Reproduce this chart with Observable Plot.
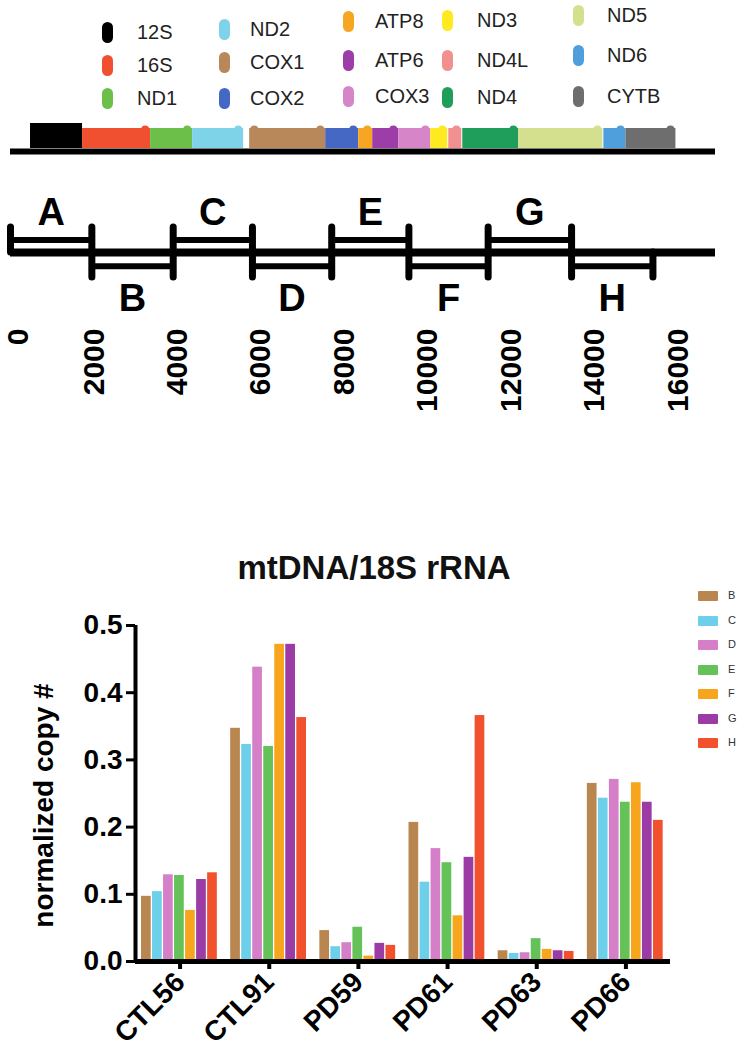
<!DOCTYPE html>
<html>
<head>
<meta charset="utf-8">
<script src="https://cdn.jsdelivr.net/npm/d3@7"></script>
<script src="https://cdn.jsdelivr.net/npm/@observablehq/plot@0.6"></script>
<style>
  body { margin: 0; background: #fff; font-family: "Liberation Sans", Arial, Helvetica, sans-serif; }
  #root { position: relative; width: 740px; height: 1048px; overflow: hidden; background: #fff; }
  .abs { position: absolute; }
  .gsw { position: absolute; width: 11px; height: 21px; border-radius: 5.5px; }
  .gtx { position: absolute; font-size: 20px; line-height: 20px; color: #222; white-space: nowrap; }
  .bsw { position: absolute; width: 20px; height: 10px; border-radius: 1px; }
  .btx { position: absolute; font-size: 11px; line-height: 11px; color: #333; }
  #title { position: absolute; left: 0; width: 748px; top: 550px; text-align: center; font-weight: bold; font-size: 33px; line-height: 36px; color: #111; white-space: nowrap; }
</style>
</head>
<body>
<div id="root"></div>
<script>
// ---------- data ----------
const genes = ["12S","16S","ND1","ND2","COX1","COX2","ATP8","ATP6","COX3","ND3","ND4L","ND4","ND5","ND6","CYTB"];
const geneColors = ["#000000","#f0502f","#6cc04a","#7fd3e8","#b8885a","#4468c4","#f6a623","#9c3da8","#d685c8","#ffe920","#f29090","#1e9e5a","#d5e08e","#4e9fdc","#6e6e6e"];
const geneStart = [480,1727,3358,4366,5733,7556,8347,8683,9307,10074,10506,10842,12185,14224,14752];
const geneEnd   = [1727,3358,4366,5589,7556,8347,8683,9307,10074,10482,10818,12185,14200,14752,15951];
const genomeLength = 16900;

const fragments = ["A","B","C","D","E","F","G","H"];
const fragmentBounds = [0,1950,3900,5800,7700,9550,11450,13450,15400];
const positionTicks = [0,2000,4000,6000,8000,10000,12000,14000,16000];

const samples = ["CTL56","CTL91","PD59","PD61","PD63","PD66"];
const seriesKeys = ["B","C","D","E","F","G","H"];
const seriesColors = ["#b8864e","#6dcfea","#d67fc9","#64c258","#f8a51e","#9b3ba5","#f2512e"];
const valuesB = [0.097,0.347,0.046,0.207,0.016,0.265];
const valuesC = [0.104,0.323,0.022,0.118,0.012,0.243];
const valuesD = [0.129,0.438,0.028,0.168,0.013,0.271];
const valuesE = [0.128,0.320,0.051,0.147,0.034,0.237];
const valuesF = [0.076,0.472,0.008,0.068,0.018,0.266];
const valuesG = [0.122,0.472,0.027,0.155,0.016,0.237];
const valuesH = [0.132,0.363,0.024,0.366,0.015,0.210];
const yTicks = [0,0.1,0.2,0.3,0.4,0.5];
const chartTitle = "mtDNA/18S rRNA";
const yLabel = "normalized copy #";

// ---------- layout ----------
const root = document.getElementById("root");
const FONT = "'Liberation Sans', Arial, Helvetica, sans-serif";
function place(el, left, top) { el.style.left = left + "px"; el.style.top = top + "px"; root.appendChild(el); return el; }

// gene legend (3 rows per column)
const legendCols = [
  {sx: 102, tx: 137, ys: [32, 65, 98]},
  {sx: 219, tx: 250, ys: [29, 62, 98]},
  {sx: 343, tx: 375, ys: [21, 60, 96]},
  {sx: 442, tx: 477, ys: [20, 60, 97]},
  {sx: 573, tx: 607, ys: [15, 55, 96]}
];
genes.forEach((g, i) => {
  const col = legendCols[Math.floor(i / 3)], yc = col.ys[i % 3];
  const sw = document.createElement("div"); sw.className = "gsw"; sw.style.background = geneColors[i];
  place(sw, col.sx, yc - 10.5);
  const tx = document.createElement("div"); tx.className = "gtx"; tx.textContent = g;
  place(tx, col.tx, yc - 10);
});

// gene map
const geneData = genes.map((g, i) => ({gene: g, start: geneStart[i], end: geneEnd[i], top: g === "12S" ? 1.25 : 1}));
const bumpData = geneData.filter(d => d.gene !== "12S").map(d => ({gene: d.gene, pos: d.end - 130}))
  .concat([{gene: "COX1", pos: geneData[4].start + 110}]);
const mapPlot = Plot.plot({
  width: 740, height: 50, marginLeft: 10, marginRight: 25, marginTop: 0, marginBottom: 0,
  style: {fontFamily: FONT, background: "transparent"},
  x: {domain: [0, genomeLength], axis: null},
  y: {domain: [0, 1], range: [38, 18], axis: null},
  color: {domain: genes, range: geneColors},
  marks: [
    Plot.ruleY([0], {x1: 0, x2: genomeLength, dy: 3, strokeWidth: 6, stroke: "#000"}),
    Plot.dot(bumpData, {x: "pos", y: 1, r: 4, fill: "gene", dy: 1}),
    Plot.rect(geneData, {x1: "start", x2: "end", y1: 0, y2: "top", fill: "gene"})
  ]
});
mapPlot.classList.add("abs");
place(mapPlot, 0, 110);

// fragment diagram
const fragData = fragments.map((f, i) => ({frag: f, start: fragmentBounds[i], end: fragmentBounds[i + 1], side: i % 2 === 0 ? 1 : -1}));
const axisStyle = {tickSize: 0, tickPadding: 8, tickRotate: -90, fontSize: 30, fontWeight: "bold", tickFormat: d => String(d), label: null, fill: "#000"};
const fragPlot = Plot.plot({
  width: 740, height: 260, marginLeft: 10, marginRight: 25, marginTop: 0, marginBottom: 130,
  style: {fontFamily: FONT, background: "transparent", color: "#000"},
  x: {domain: [0, genomeLength], label: null},
  y: {domain: [-4, 4], range: [112, 12], axis: null},
  marks: [
    Plot.ruleY([0], {x1: 0, x2: genomeLength, strokeWidth: 8, stroke: "#000"}),
    Plot.ruleY(fragData, {y: d => d.side > 0 ? 1 : -1.1, x1: "start", x2: "end", strokeWidth: 6, stroke: "#000"}),
    Plot.ruleX(fragData, {x: "start", y1: 0, y2: d => d.side * 2, strokeWidth: 7, stroke: "#000", strokeLinecap: "round"}),
    Plot.ruleX(fragData, {x: "end", y1: 0, y2: d => d.side * 2, strokeWidth: 7, stroke: "#000", strokeLinecap: "round"}),
    Plot.text(fragData, {x: d => (d.start + d.end) / 2, y: d => d.side > 0 ? 3.2 : -3.7, text: "frag", fontSize: 38, fontWeight: "bold", fill: "#000"}),
    Plot.axisX(positionTicks.slice(0, 1), {...axisStyle, dx: 8}),
    Plot.axisX(positionTicks.slice(1), axisStyle)
  ]
});
fragPlot.classList.add("abs");
place(fragPlot, 0, 190);

// bar chart title
const title = document.createElement("div"); title.id = "title"; title.textContent = chartTitle; root.appendChild(title);

// bar chart
const seriesValues = [valuesB, valuesC, valuesD, valuesE, valuesF, valuesG, valuesH];
const barData = [];
seriesKeys.forEach((k, j) => samples.forEach((s, i) => barData.push({sample: s, series: k, value: seriesValues[j][i], i, j})));
const groupWidth = 0.865, slot = groupWidth / seriesKeys.length, barW = slot * 0.88;
const barPlot = Plot.plot({
  width: 740, height: 448, marginLeft: 135, marginRight: 70, marginTop: 25, marginBottom: 87,
  style: {fontFamily: FONT, background: "transparent", color: "#000", overflow: "visible"},
  x: {domain: [-0.5, samples.length - 0.5], label: null},
  y: {domain: [0, 0.5], label: null},
  color: {domain: seriesKeys, range: seriesColors},
  marks: [
    Plot.rect(barData, {x1: d => d.i - groupWidth / 2 + d.j * slot, x2: d => d.i - groupWidth / 2 + d.j * slot + barW, y1: 0, y2: "value", fill: "series"}),
    Plot.ruleX([-0.5], {y1: 0, y2: 0.5, strokeWidth: 4, stroke: "#000"}),
    Plot.ruleY([0], {x1: -0.5, x2: samples.length - 0.5, strokeWidth: 5, stroke: "#000"}),
    Plot.axisY(yTicks, {tickSize: 9, tickPadding: 4, strokeWidth: 3, fontSize: 28, fontWeight: "bold", tickFormat: d => d.toFixed(1), label: null, fill: "#000"}),
    Plot.text([yLabel], {frameAnchor: "middle", textAnchor: "middle", lineAnchor: "middle", rotate: -90, dx: -(135 + 535 / 2 - 44), dy: 12, fontSize: 28, fontWeight: "bold", fill: "#000"}),
    Plot.axisX(d3.range(samples.length), {tickSize: 8, tickPadding: 8, strokeWidth: 4, tickRotate: -45, fontSize: 28, fontWeight: "bold", tickFormat: i => samples[i], label: null, fill: "#000"})
  ]
});
barPlot.classList.add("abs");
place(barPlot, 0, 600);

// bar legend
seriesKeys.forEach((k, j) => {
  const yc = 596 + j * 24.5;
  const sw = document.createElement("div"); sw.className = "bsw"; sw.style.background = seriesColors[j];
  place(sw, 698, yc - 5);
  const tx = document.createElement("div"); tx.className = "btx"; tx.textContent = k;
  place(tx, 728, yc - 6);
});
</script>
</body>
</html>
